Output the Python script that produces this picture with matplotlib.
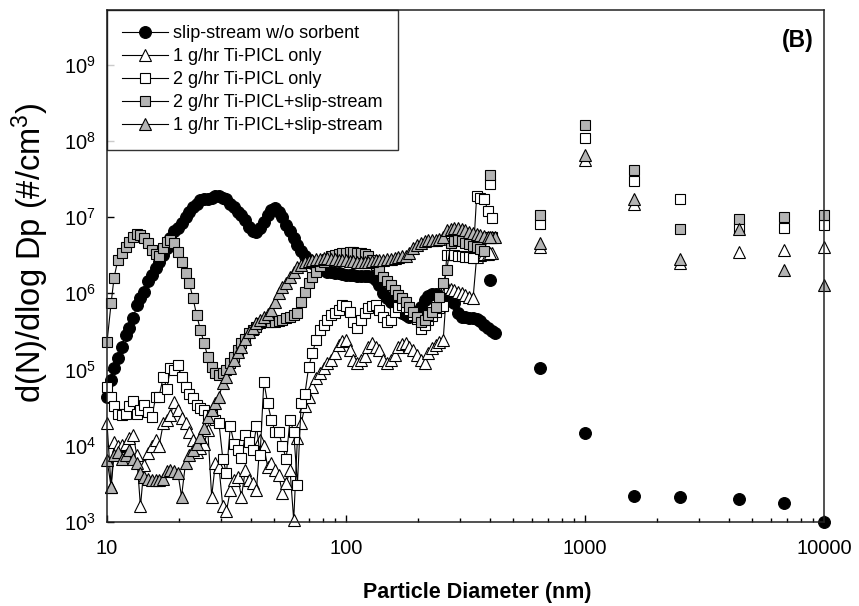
import numpy as np
import matplotlib
matplotlib.use("Agg")
import matplotlib.pyplot as plt

plt.rcParams['font.family'] = ['Liberation Sans', 'DejaVu Sans']
plt.rcParams['mathtext.fontset'] = 'custom'
plt.rcParams['mathtext.rm'] = 'Liberation Sans'
plt.rcParams['mathtext.default'] = 'regular'

nan = np.nan

# ======================
# Data: SMPS channels (nm)
# ======================
dp = [10.0, 10.4, 10.7, 11.1, 11.5, 12.0, 12.4, 12.9, 13.3, 13.8, 14.3, 14.9, 15.4, 16.0, 16.5, 17.2,
      17.8, 18.4, 19.1, 19.8, 20.5, 21.3, 22.1, 22.9, 23.7, 24.6, 25.5, 26.4, 27.4, 28.4, 29.4, 30.5,
      31.6, 32.8, 34.0, 35.2, 36.5, 37.9, 39.2, 40.7, 42.2, 43.7, 45.3, 47.0, 48.7, 50.5, 52.3, 54.2,
      56.2, 58.3, 60.4, 62.6, 64.9, 67.3, 69.8, 72.3, 75.0, 77.7, 80.6, 83.5, 86.6, 89.8, 93.1, 96.5,
      100, 104, 107, 111, 115, 120, 124, 129, 133, 138, 143, 149, 154, 160, 165, 172,
      178, 184, 191, 198, 205, 213, 221, 229, 237, 246, 255, 264, 274, 284, 294, 305,
      316, 328, 340, 352, 365, 379, 392, 407, 422]

slip = [4.4e4, 7.3e4, 1.04e5, 1.4e5, 2.0e5, 2.85e5, 3.5e5, 4.7e5, 7.05e5, 8.6e5, 1.05e6, 1.43e6, 1.74e6, 2.13e6, 2.6e6, 3.2e6,
        3.9e6, 5.3e6, 6.5e6, 7.1e6, 8.3e6, 1.0e7, 1.18e7, 1.35e7, 1.5e7, 1.65e7, 1.7e7, 1.7e7, 1.77e7, 1.9e7, 1.9e7, 1.8e7,
        1.7e7, 1.5e7, 1.35e7, 1.18e7, 1.07e7, 9.2e6, 7.5e6, 6.5e6, 6.3e6, 7.1e6, 8.7e6, 1.07e7, 1.24e7, 1.3e7, 1.18e7, 1.0e7,
        7.9e6, 6.5e6, 5.3e6, 4.3e6, 3.6e6, 3.1e6, 2.75e6, 2.5e6, 2.3e6, 2.13e6, 2.03e6, 1.93e6, 1.93e6, 1.87e6, 1.83e6, 1.8e6,
        1.76e6, 1.74e6, 1.72e6, 1.7e6, 1.69e6, 1.69e6, 1.69e6, 1.66e6, 1.5e6, 1.3e6, 1.02e6, 8.6e5, 7.8e5, 7.05e5, 6.2e5, 5.5e5,
        5.15e5, 4.95e5, 5.05e5, 5.6e5, 6.7e5, 8.2e5, 9.3e5, 9.7e5, 9.7e5, 9.3e5, 8.9e5, 8.4e5, 8.0e5, 7.4e5, 5.5e5, 4.95e5,
        4.85e5, 4.8e5, 4.8e5, 4.6e5, 4.35e5, 3.85e5, 3.5e5, 3.2e5, 3.0e5]

tri_1g = [1.97e4, 2.9e3, 1.13e4, 9.8e3, 1.02e4, 1.07e4, 1.25e4, 1.38e4, 7.6e3, 1.6e3, 5.6e3, 8.0e3, 9.8e3, 1.19e4, 9.8e3, 1.97e4,
          2.2e4, 2.5e4, 3.8e4, 2.95e4, 2.3e4, 1.97e4, 1.53e4, 1.19e4, 8.4e3, 9.3e3, 1.07e4, 1.6e4, 2.15e3, 5.9e3, 5.3e3, 1.6e3,
          1.4e3, 2.6e3, 3.55e3, 3.9e3, 2.15e3, 4.8e3, 3.55e3, 3.2e3, 2.6e3, 1.19e4, 9.8e3, 5.3e3, 5.9e3, 4.8e3, 4.1e3, 2.4e3,
          3.2e3, 4.8e3, 1.06e3, 1.25e4, 1.97e4, 3.3e4, 4.4e4, 5.9e4, 7.7e4, 8.9e4, 1.04e5, 1.2e5, 1.33e5, 1.63e5, 2.1e5, 2.4e5,
          2.45e5, 1.8e5, 1.33e5, 1.2e5, 1.33e5, 1.5e5, 2.0e5, 2.2e5, 2.0e5, 1.78e5, 1.33e5, 1.2e5, 1.33e5, 1.55e5, 2.0e5, 2.15e5,
          2.2e5, 2.0e5, 1.8e5, 1.55e5, 1.33e5, 1.2e5, 1.63e5, 1.9e5, 2.1e5, 2.3e5, 2.45e5, 1.2e6, 1.15e6, 1.1e6, 1.05e6, 1.0e6,
          9.5e5, 9.0e5, 8.6e5, 3.0e6, 3.2e6, 3.3e6, 3.3e6, 3.35e6, nan]

sq_2g = [5.9e4, 4.4e4, 3.3e4, 2.65e4, 2.5e4, 2.65e4, 3.3e4, 3.9e4, 2.65e4, 2.95e4, 3.4e4, 2.8e4, 2.4e4, 4.4e4, 4.4e4, 8.1e4,
         5.6e4, 1.04e5, 9.9e4, 1.14e5, 8.1e4, 5.9e4, 4.8e4, 4.2e4, 3.4e4, 3.1e4, 2.95e4, 2.5e4, 2.5e4, 2.2e4, 1.97e4, 6.8e3,
         4.35e3, 1.8e4, 1.07e4, 8.8e3, 7.0e3, 1.38e4, 1.13e4, 8.8e3, 1.8e4, 7.6e3, 6.9e4, 3.6e4, 2.2e4, 1.53e4, 1.53e4, 9.8e3,
         6.8e3, 2.2e4, 1.53e4, 3.1e3, 3.6e4, 4.8e4, 1.09e5, 1.63e5, 2.45e5, 3.3e5, 3.85e5, 4.5e5, 5.2e5, 5.5e5, 6.05e5, 7.05e5,
         6.9e5, 5.75e5, 4.25e5, 3.5e5, 4.5e5, 5.5e5, 6.4e5, 6.9e5, 7.05e5, 6.05e5, 4.95e5, 4.15e5, 4.5e5, 5.6e5, 6.6e5, 7.05e5,
         6.7e5, 6.05e5, 5.2e5, 4.6e5, 3.4e5, 3.85e5, 4.5e5, 5.05e5, 5.6e5, 6.4e5, 6.9e5, 3.2e6, 3.2e6, 3.15e6, 3.1e6, 3.05e6,
         3.0e6, 2.95e6, 2.9e6, 1.9e7, 1.8e7, 1.75e7, 1.2e7, 9.8e6, nan]

sq_2g_slip = [2.3e5, 7.4e5, 1.6e6, 2.75e6, 3.35e6, 4.1e6, 4.75e6, 5.55e6, 6.0e6, 5.8e6, 5.3e6, 4.5e6, 3.7e6, 3.3e6, 3.05e6, 3.9e6,
              4.75e6, 5.0e6, 4.6e6, 3.5e6, 2.6e6, 1.83e6, 1.35e6, 8.6e5, 5.2e5, 3.3e5, 2.2e5, 1.47e5, 1.09e5, 9.1e4, 8.6e4, 8.9e4,
              9.9e4, 1.2e5, 1.47e5, 1.8e5, 2.2e5, 2.55e5, 3.0e5, 3.3e5, 3.65e5, 4.05e5, 4.15e5, 4.2e5, 4.25e5, 4.25e5, 4.35e5, 4.5e5,
              4.7e5, 4.95e5, 5.2e5, 5.5e5, 7.6e5, 1.05e6, 1.35e6, 1.66e6, 1.93e6, 2.25e6, 2.55e6, 2.8e6, 3.05e6, 3.2e6, 3.3e6, 3.35e6,
              3.4e6, 3.45e6, 3.45e6, 3.4e6, 3.35e6, 3.3e6, 3.1e6, 2.75e6, 2.35e6, 2.03e6, 1.66e6, 1.43e6, 1.3e6, 1.1e6, 9.5e5, 8.6e5,
              7.8e5, 6.7e5, 5.75e5, 4.95e5, 4.25e5, 4.5e5, 5.2e5, 5.75e5, 6.7e5, 9.05e5, 1.35e6, 2.0e6, 4.5e6, 4.8e6, 5.0e6, 4.8e6,
              4.6e6, 4.4e6, 4.2e6, 4.0e6, 3.8e6, 3.6e6, 5.5e6, 5.5e6, nan]

tri_1g_slip = [6.5e3, 2.9e3, 7.6e3, 8.4e3, 6.8e3, 7.6e3, 8.8e3, 6.8e3, 5.9e3, 4.35e3, 3.9e3, 3.7e3, 3.55e3, 3.55e3, 3.55e3, 3.7e3,
               4.6e3, 4.8e3, 4.6e3, 4.35e3, 2.15e3, 5.9e3, 7.6e3, 8.8e3, 1.07e4, 1.3e4, 1.7e4, 2.4e4, 2.95e4, 3.6e4, 4.4e4, 6.6e4,
               8.1e4, 1.04e5, 1.33e5, 1.7e5, 2.0e5, 2.55e5, 3.15e5, 3.5e5, 4.05e5, 4.4e5, 4.85e5, 5.4e5, 5.95e5, 7.8e5, 1.0e6, 1.2e6,
               1.38e6, 1.63e6, 1.93e6, 2.2e6, 2.35e6, 2.55e6, 2.65e6, 2.75e6, 2.8e6, 2.85e6, 2.9e6, 2.9e6, 2.85e6, 2.8e6, 2.75e6, 2.7e6,
               2.7e6, 2.65e6, 2.65e6, 2.6e6, 2.6e6, 2.6e6, 2.6e6, 2.65e6, 2.7e6, 2.7e6, 2.75e6, 2.8e6, 2.85e6, 2.9e6, 3.0e6, 3.05e6,
               3.1e6, 3.4e6, 3.9e6, 4.3e6, 4.6e6, 4.9e6, 5.0e6, 5.0e6, 5.0e6, 5.2e6, 5.5e6, 6.8e6, 7.0e6, 7.1e6, 7.2e6, 7.0e6,
               6.7e6, 6.4e6, 6.2e6, 6.0e6, 5.8e6, 5.6e6, 5.5e6, 5.5e6, 5.5e6]

# isolated points (nm), drawn as markers only
dp_aps = [400, 650, 1000, 1600, 2500, 4400, 6800, 10000]
slip_aps = [1.5e6, 1.05e5, 1.46e4, 2.2e3, 2.15e3, 2.0e3, 1.8e3, 1.0e3]
tri_1g_aps = [3.35e6, 4.1e6, 5.6e7, 1.5e7, 2.5e6, 3.5e6, 3.7e6, 4.0e6]
sq_2g_aps = [2.7e7, 8.0e6, 1.1e8, 3.0e7, 1.7e7, 7.2e6, 7.2e6, 7.9e6]
sq_2g_slip_aps = [3.6e7, 1.07e7, 1.6e8, 4.1e7, 6.9e6, 9.3e6, 1.0e7, 1.07e7]
tri_1g_slip_aps = [5.5e6, 4.5e6, 6.6e7, 1.7e7, 2.8e6, 7.0e6, 2.0e6, 1.3e6]

GRAY = '#b4b4b4'
series = [
    ("slip-stream w/o sorbent", slip, slip_aps, 'o', 'black', 8.5),
    ("1 g/hr Ti-PICL only", tri_1g, tri_1g_aps, '^', 'white', 8.8),
    ("2 g/hr Ti-PICL only", sq_2g, sq_2g_aps, 's', 'white', 7.3),
    ("2 g/hr Ti-PICL+slip-stream", sq_2g_slip, sq_2g_slip_aps, 's', GRAY, 7.3),
    ("1 g/hr Ti-PICL+slip-stream", tri_1g_slip, tri_1g_slip_aps, '^', GRAY, 8.8),
]

# ======================
# Plot
# ======================
fig = plt.figure(figsize=(8.59, 6.06), dpi=100)
ax = fig.add_axes([0.1246, 0.1386, 0.8347, 0.8449])

for label, y, y_aps, mk, fc, ms in series:
    ax.plot(dp, y, color='black', linewidth=0.8, marker=mk, markersize=ms,
            markerfacecolor=fc, markeredgecolor='black', markeredgewidth=0.8,
            label=label, clip_on=False)
    ax.plot(dp_aps, y_aps, linestyle='none', marker=mk, markersize=ms,
            markerfacecolor=fc, markeredgecolor='black', markeredgewidth=0.8,
            clip_on=False)

ax.set_xscale('log')
ax.set_yscale('log')
ax.set_xlim(10, 10000)
ax.set_ylim(1e3, 5.2e9)
ax.set_yticks([1e3, 1e4, 1e5, 1e6, 1e7, 1e8, 1e9])
ax.yaxis.set_minor_locator(matplotlib.ticker.NullLocator())
ax.xaxis.set_major_formatter(matplotlib.ticker.FormatStrFormatter('%d'))

ax.tick_params(axis='both', which='major', direction='in', length=5, width=1,
               labelsize=14.5, top=False, right=False)
ax.tick_params(axis='x', which='major', pad=12)
ax.tick_params(axis='y', which='major', pad=8)
ax.tick_params(axis='x', which='minor', direction='in', length=3, width=1, top=False)
for sp in ax.spines.values():
    sp.set_linewidth(1.1)
    sp.set_color('#222222')

ax.set_xlabel("Particle Diameter (nm)", fontsize=15.5, fontweight='bold')
ax.xaxis.set_label_coords(0.517, -0.117)
ax.set_ylabel("d(N)/dlog Dp (#/cm$^3$)", fontsize=23.5)
ax.yaxis.set_label_coords(-0.078, 0.525)

ax.text(0.985, 0.962, "(B)", transform=ax.transAxes, ha='right', va='top',
        fontsize=16.5, fontweight='bold')

leg = ax.legend(loc='upper left', bbox_to_anchor=(0, 1), borderaxespad=0,
                fontsize=13, frameon=True, fancybox=False, handlelength=2.5,
                handletextpad=0.3, labelspacing=0.33, borderpad=0.85)
leg.get_frame().set_edgecolor('black')
leg.get_frame().set_linewidth(1.0)
leg.set_zorder(5)

plt.savefig("out.png", dpi=100)
